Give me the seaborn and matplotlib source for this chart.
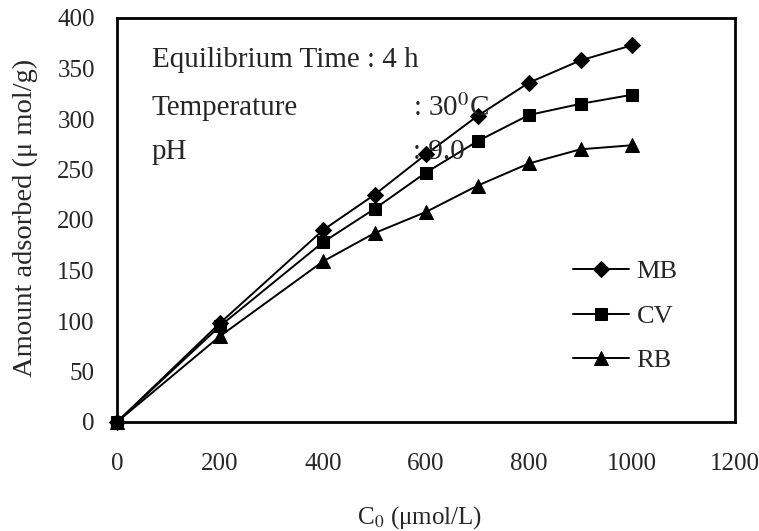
import numpy as np
import pandas as pd
import seaborn as sns
import matplotlib
matplotlib.use("Agg")
import matplotlib.pyplot as plt

# Initial dye concentration (umol/L)
c0 = [0, 200, 400, 500, 600, 700, 800, 900, 1000]
# Amount adsorbed (umol/g) for each dye
mb = [0, 98, 190, 225, 265, 303, 336, 358, 373]
cv = [0, 95, 178, 211, 247, 278, 304, 315, 324]
rb = [0, 85, 159, 187, 208, 234, 256, 270, 274]
series = ["MB", "CV", "RB"]

df = pd.DataFrame({
    "C0": c0 * 3,
    "q": mb + cv + rb,
    "dye": sum([[s] * len(c0) for s in series], []),
})

sns.set_theme(style="white")
plt.rcParams["font.family"] = ["Liberation Serif", "DejaVu Serif"]
plt.rcParams["mathtext.fontset"] = "stix"

W, H = 759, 531
TXT = "#262626"
fig = plt.figure(figsize=(W / 100, H / 100), dpi=100)
ax = fig.add_axes([117 / W, 1 - 422 / H, (735 - 117) / W, (422 - 18) / H])

markers = {"MB": "D", "CV": "s", "RB": "^"}
sizes = {"MB": 8.5, "CV": 9, "RB": 10}
for s in series:
    sub = df[df["dye"] == s]
    sns.lineplot(data=sub, x="C0", y="q", ax=ax, color="black", linewidth=1.4,
                 marker=markers[s], markersize=sizes[s], markeredgecolor="black",
                 markerfacecolor="black", label=s, clip_on=False, zorder=3)

ax.set_xlim(0, 1200)
ax.set_ylim(0, 400)
ax.set_xticks(np.arange(0, 1201, 200))
ax.set_yticks(np.arange(0, 401, 50))
ax.tick_params(axis="both", direction="in", length=5, width=1, labelsize=18,
               color="black", labelcolor=TXT)
ax.tick_params(axis="y", pad=16)
ax.tick_params(axis="x", pad=22)
for sp in ax.spines.values():
    sp.set_color("black")
    sp.set_linewidth(2)

ax.set_xlabel("")
ax.set_ylabel("")
fig.text(420 / W, 1 - 518 / H, "C$_0$ (\u03bcmol/L)", fontsize=18, color=TXT,
         ha="center", va="center")
fig.text(25 / W, 1 - 218 / H, "Amount adsorbed (\u03bc mol/g)", fontsize=20.5,
         color=TXT, ha="center", va="center", rotation=90)

# condition annotations, placed in figure pixels measured from the top-left
for txt, x, y in [("Equilibrium Time : 4 h", 152, 60), ("Temperature", 152, 108),
                  (": 30$^{0}$C", 413, 108), ("pH", 152, 152), (": 9.0", 413, 152)]:
    fig.text(x / W, 1 - y / H, txt, fontsize=21, color=TXT, va="center")

handles, labels = ax.get_legend_handles_labels()
ax.legend(handles, labels, loc="center left", bbox_to_anchor=(0.717, 0.262),
          frameon=False, fontsize=19, handlelength=2.1, handletextpad=0.3,
          labelspacing=0.8, labelcolor=TXT, borderpad=0)

fig.savefig("out.png", dpi=100)
